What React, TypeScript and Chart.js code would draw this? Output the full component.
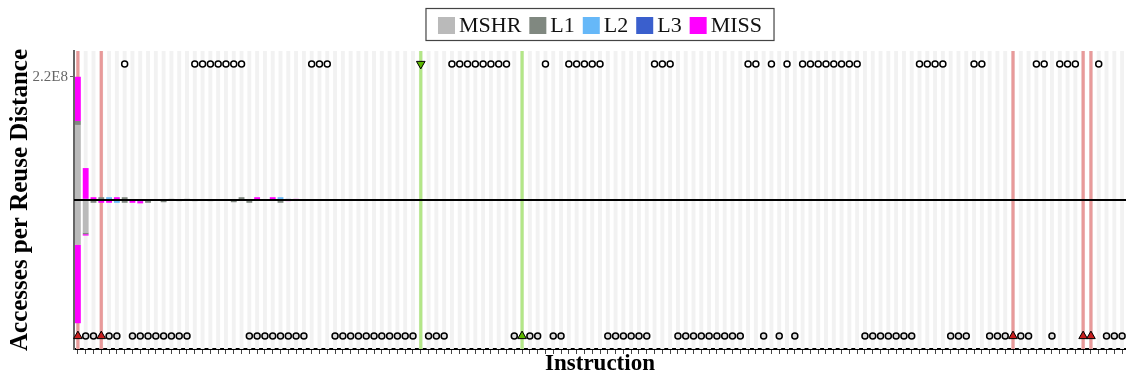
import React, { useEffect, useRef } from 'react';
import { Chart, registerables } from 'chart.js';

Chart.register(...registerables);

const FONT = "'Liberation Serif', 'Times New Roman', serif";

// ---- categories ----
const instructionCount = 135;
const instructions = Array.from({ length: instructionCount }, (_, i) => String(i));

// ---- y tick labels ----
const yTickValues = [2.2e8];
const yRange = 2.66e8;
const markerLevel = 2.43e8;

// ---- stacked bar values (instructions 0..28; all later instructions are 0) ----
const barInstructions = [
  0, 1, 2, 3, 4, 5, 6, 7, 8, 9, 10, 11, 12, 13, 14, 15, 16, 17, 18, 19, 20, 21, 22, 23, 24, 25, 26, 27, 28,
];
const mshrAbove = [
  134e6, 0, 0, 0, 0, 0, 0, 0, 0, 0,
  0, 0, 0, 0, 0, 0, 0, 0, 0, 0,
  0, 0, 0, 0, 0, 0, 0, 0, 0,
];
const l1Above = [
  7e6, 0, 0, 5e6, 0, 0, 5e6, 0, 0, 0,
  0, 0, 2e6, 0, 2e6, 0, 0, 0, 0, 0,
  0, 5e6, 0, 0, 0, 0, 0, 0, 0,
];
const l2Above = [
  0, 2e6, 0, 0, 5e6, 0, 0, 0, 0, 0,
  0, 0, 0, 0, 0, 0, 0, 0, 0, 0,
  0, 0, 0, 0, 0, 0, 5e6, 0, 0,
];
const l3Above = [
  0, 0, 0, 0, 0, 0, 0, 0, 0, 0,
  0, 0, 0, 0, 0, 0, 0, 0, 0, 0,
  0, 0, 0, 0, 0, 0, 0, 2e6, 0,
];
const missAbove = [
  79e6, 55e6, 5e6, 0, 0, 5e6, 0, 0, 0, 0,
  0, 0, 0, 0, 0, 0, 0, 0, 0, 0,
  0, 0, 0, 5e6, 0, 5e6, 0, 0, 2e6,
];
const mshrBelow = [
  -80e6, -58e6, 0, 0, 0, 0, 0, 0, 0, 0,
  0, 0, 0, 0, 0, 0, 0, 0, 0, 0,
  0, 0, 0, 0, 0, 0, 0, 0, 0,
];
const l1Below = [
  0, -3e6, -5e6, 0, 0, 0, -5e6, 0, 0, -5e6,
  0, -4e6, 0, -2e6, 0, -2e6, 0, -2e6, 0, 0,
  -4e6, 0, -5e6, 0, 0, 0, -5e6, 0, 0,
];
const l2Below = [
  0, 0, 0, 0, 0, -5e6, 0, 0, 0, 0,
  0, 0, 0, 0, 0, 0, 0, 0, 0, 0,
  0, 0, 0, 0, 0, 0, 0, 0, 0,
];
const l3Below = [
  0, 0, 0, 0, 0, 0, 0, 0, -2e6, 0,
  0, 0, 0, 0, 0, 0, 0, 0, 0, 0,
  0, 0, 0, 0, 0, 0, 0, 0, 0,
];
const missBelow = [
  -140e6, -2.5e6, 0, -5e6, -5e6, 0, 0, -5e6, -4e6, 0,
  0, 0, 0, 0, 0, 0, 0, 0, 0, 0,
  0, 0, 0, 0, 0, 0, 0, -2e6, 0,
];

// ---- markers ----
const aboveInstructions = [
  6, 15, 16, 17, 18, 19, 20, 21, 30, 31, 32, 48, 49, 50, 51, 52, 53, 54, 55, 60, 63, 64, 65, 66, 67,
  74, 75, 76, 86, 87, 89, 91, 93, 94, 95, 96, 97, 98, 99, 100, 108, 109, 110, 111, 115, 116, 123, 124,
  126, 127, 128, 131,
];
const belowInstructions = [
  1, 2, 4, 5, 7, 8, 9, 10, 11, 12, 13, 14, 22, 23, 24, 25, 26, 27, 28, 29, 33, 34, 35, 36, 37, 38, 39,
  40, 41, 42, 43, 45, 46, 47, 56, 58, 59, 61, 62, 68, 69, 70, 71, 72, 73, 77, 78, 79, 80, 81, 82, 83,
  84, 85, 88, 90, 92, 101, 102, 103, 104, 105, 106, 107, 112, 113, 114, 117, 118, 119, 121, 122, 125,
  132, 133, 134,
];
const redEventInstructions = [0, 3, 120, 129, 130];
const greenEventAboveInstructions = [44];
const greenEventBelowInstructions = [57];

// ---- colours ----
const C_MSHR = '#bababa';
const C_L1 = '#808880';
const C_L2 = '#66b8f8';
const C_L3 = '#3a5fcd';
const C_MISS = '#ff00ff';
const C_RED_LINE = '#e89a9a';
const C_GREEN_LINE = '#b3e688';

const seriesFor = (values: number[]) =>
  instructions.map((_, i) => {
    const k = barInstructions.indexOf(i);
    return k >= 0 ? values[k] : 0;
  });

const markersFor = (list: number[], level: number) =>
  instructions.map((_, i) => (list.includes(i) ? level : null));

const backdropPlugin = {
  id: 'backdrop',
  beforeDatasetsDraw(chart: any) {
    const { ctx, chartArea: a, scales } = chart;
    const x = scales.x;
    const pitch = x.getPixelForValue(1) - x.getPixelForValue(0);
    ctx.save();
    ctx.fillStyle = '#f2f2f2';
    instructions.forEach((_, i) => {
      const cx = x.getPixelForValue(i);
      ctx.fillRect(cx - pitch * 0.25, a.top, pitch * 0.5, a.bottom - a.top);
    });
    const vline = (i: number, color: string) => {
      const cx = x.getPixelForValue(i);
      ctx.fillStyle = color;
      ctx.fillRect(cx - 1.6, a.top, 3.2, a.bottom - a.top);
    };
    redEventInstructions.forEach((i) => vline(i, C_RED_LINE));
    greenEventAboveInstructions.forEach((i) => vline(i, C_GREEN_LINE));
    greenEventBelowInstructions.forEach((i) => vline(i, C_GREEN_LINE));
    ctx.restore();
  },
  afterDatasetsDraw(chart: any) {
    const { ctx, chartArea: a, scales } = chart;
    const y0 = scales.y.getPixelForValue(0);
    ctx.save();
    ctx.strokeStyle = '#000';
    ctx.lineWidth = 2;
    ctx.beginPath();
    ctx.moveTo(a.left, y0);
    ctx.lineTo(a.right, y0);
    ctx.stroke();
    ctx.restore();
  },
  afterDraw(chart: any) {
    const { ctx, chartArea: a } = chart;
    const items = chart.data.datasets
      .filter((d: any) => d.inLegend)
      .map((d: any) => ({ label: d.label, color: d.backgroundColor }));
    ctx.save();
    ctx.font = `22px ${FONT}`;
    const sq = 17;
    const gapText = 4;
    const gapItem = 8;
    const padX = 12;
    const widths = items.map((it: any) => ctx.measureText(it.label).width);
    const total =
      padX * 2 +
      widths.reduce((s: number, w: number) => s + sq + gapText + w, 0) +
      gapItem * (items.length - 1);
    const left = (a.left + a.right) / 2 - total / 2;
    const top = 8.5;
    const h = 32;
    ctx.fillStyle = '#fff';
    ctx.fillRect(left, top, total, h);
    ctx.strokeStyle = '#444';
    ctx.lineWidth = 1.2;
    ctx.strokeRect(left, top, total, h);
    let cx = left + padX;
    const cy = top + h / 2 + 1;
    ctx.textBaseline = 'middle';
    items.forEach((it: any, k: number) => {
      ctx.fillStyle = it.color;
      ctx.fillRect(cx, cy - sq / 2, sq, sq);
      cx += sq + gapText;
      ctx.fillStyle = '#111';
      ctx.fillText(it.label, cx, cy + 1);
      cx += widths[k] + gapItem;
    });
    ctx.restore();
  },
};

export default function App() {
  const canvasRef = useRef<HTMLCanvasElement | null>(null);

  useEffect(() => {
    const canvas = canvasRef.current;
    if (!canvas) return;

    const bar = (label: string, values: number[], color: string, inLegend: boolean) => ({
      type: 'bar',
      label,
      data: seriesFor(values),
      backgroundColor: color,
      borderWidth: 0,
      barPercentage: 0.75,
      categoryPercentage: 1,
      inLegend,
      yAxisID: 'y',
    });

    const marker = (
      label: string,
      list: number[],
      level: number,
      style: string,
      fill: string,
      radius: number,
      rotation: number,
      borderWidth: number
    ) => ({
      type: 'line',
      label,
      data: markersFor(list, level),
      showLine: false,
      yAxisID: 'yM',
      pointStyle: style,
      pointRadius: radius,
      pointHoverRadius: radius,
      pointRotation: rotation,
      pointBackgroundColor: fill,
      pointBorderColor: '#000',
      pointBorderWidth: borderWidth,
      backgroundColor: fill,
      borderColor: '#000',
      inLegend: false,
      clip: false,
    });

    const chart = new Chart(canvas, {
      type: 'bar',
      data: {
        labels: instructions,
        datasets: [
          bar('MSHR', mshrAbove, C_MSHR, true),
          bar('L1', l1Above, C_L1, true),
          bar('L2', l2Above, C_L2, true),
          bar('L3', l3Above, C_L3, true),
          bar('MISS', missAbove, C_MISS, true),
          bar('MSHR below', mshrBelow, C_MSHR, false),
          bar('L1 below', l1Below, C_L1, false),
          bar('L2 below', l2Below, C_L2, false),
          bar('L3 below', l3Below, C_L3, false),
          bar('MISS below', missBelow, C_MISS, false),
          marker('above', aboveInstructions, markerLevel, 'circle', '#ffffff', 3, 0, 1.5),
          marker('below', belowInstructions, -markerLevel, 'circle', '#dddddd', 3, 0, 1.5),
          marker('red events', redEventInstructions, -markerLevel, 'triangle', '#c81e1e', 5, 0, 1),
          marker('green above', greenEventAboveInstructions, markerLevel, 'triangle', '#5cb800', 5, 180, 1),
          marker('green below', greenEventBelowInstructions, -markerLevel, 'triangle', '#5cb800', 5, 0, 1),
        ] as any,
      },
      options: {
        responsive: false,
        animation: false,
        devicePixelRatio: 1,
        layout: { padding: { top: 51, left: 0, right: 0, bottom: 0 } },
        plugins: {
          legend: { display: false },
          tooltip: { enabled: false },
        },
        scales: {
          x: {
            type: 'category',
            stacked: true,
            offset: true,
            grid: {
              offset: false,
              drawOnChartArea: false,
              drawTicks: true,
              tickLength: 5,
              color: '#444',
            },
            border: { display: true, color: '#000', width: 2 },
            ticks: { autoSkip: false, maxRotation: 0, callback: () => '', padding: 0 },
            title: {
              display: true,
              text: 'Instruction',
              color: '#000',
              font: { family: FONT, size: 23, weight: 'bold' },
              padding: { top: 0, bottom: -2 },
            },
            afterFit: (s: any) => {
              s.height = 27;
              s.paddingLeft = 0;
              s.paddingRight = 0;
            },
          },
          y: {
            stacked: true,
            min: -yRange,
            max: yRange,
            afterBuildTicks: (s: any) => {
              s.ticks = yTickValues.map((v) => ({ value: v }));
            },
            ticks: {
              color: '#666',
              padding: 2,
              font: { family: FONT, size: 15 },
              callback: (v: any) => Number(v).toExponential(1).toUpperCase().replace('+', ''),
            },
            grid: { drawOnChartArea: false, drawTicks: true, tickLength: 4, color: '#666' },
            border: { display: true, color: '#666', width: 2 },
            title: {
              display: true,
              text: 'Accesses per Reuse Distance',
              color: '#000',
              font: { family: FONT, size: 25, weight: 'bold' },
              padding: { top: 6, bottom: 0 },
            },
            afterFit: (s: any) => {
              s.width = 74;
              s.paddingTop = 0;
              s.paddingBottom = 0;
            },
          },
          yM: {
            display: false,
            stacked: false,
            min: -yRange,
            max: yRange,
          },
        },
      } as any,
      plugins: [backdropPlugin],
    });

    return () => chart.destroy();
  }, []);

  return (
    <div
      style={{
        position: 'fixed',
        left: 0,
        top: 0,
        width: 1126,
        height: 376,
        overflow: 'hidden',
        background: '#fff',
      }}
    >
      <canvas ref={canvasRef} width={1132} height={376} style={{ display: 'block' }} />
    </div>
  );
}
